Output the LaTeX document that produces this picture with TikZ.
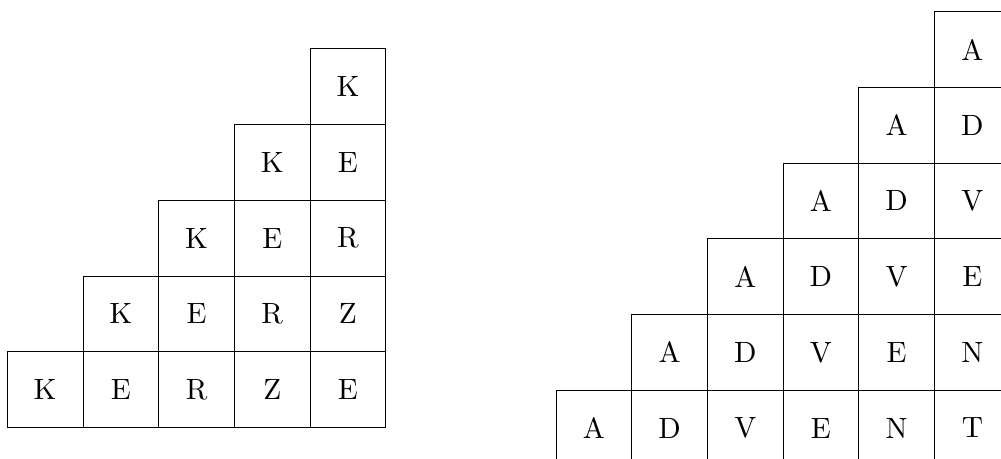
\documentclass[tikz,border=0pt]{standalone}
\usepackage{fontspec}
\newfontfamily\lmten{lmroman10-regular.otf}
\begin{document}
\begin{tikzpicture}[x=0.75pt,y=-0.75pt,
  cell/.style={draw=black,line width=0.6pt,minimum size=56.775pt,inner sep=0pt,
    font=\lmten\fontsize{22}{26}\selectfont}]
\clip (0,0) rectangle (1001,458);
% left staircase: KERZE
\def\s{75.7}
\foreach \r in {1,...,5}{
  \foreach \c/\l [count=\i] in {1/K,2/E,3/R,4/Z,5/E}{
    \ifnum\i>\r\relax\else
      \pgfmathsetmacro\xx{7.3+\s*(5-\r+\i-1)+\s/2}
      \pgfmathsetmacro\yy{427.3-\s*(5-\r)-\s/2}
      \node[cell] (L\r\i) at (\xx,\yy) {\l};
    \fi
  }
}
% right staircase: ADVENT
\foreach \r in {1,...,6}{
  \foreach \c/\l [count=\i] in {1/A,2/D,3/V,4/E,5/N,6/T}{
    \ifnum\i>\r\relax\else
      \pgfmathsetmacro\xx{556+\s*(6-\r+\i-1)+\s/2}
      \pgfmathsetmacro\yy{465.9-\s*(6-\r)-\s/2}
      \node[cell] (R\r\i) at (\xx,\yy) {\l};
    \fi
  }
}
\end{tikzpicture}
\end{document}
